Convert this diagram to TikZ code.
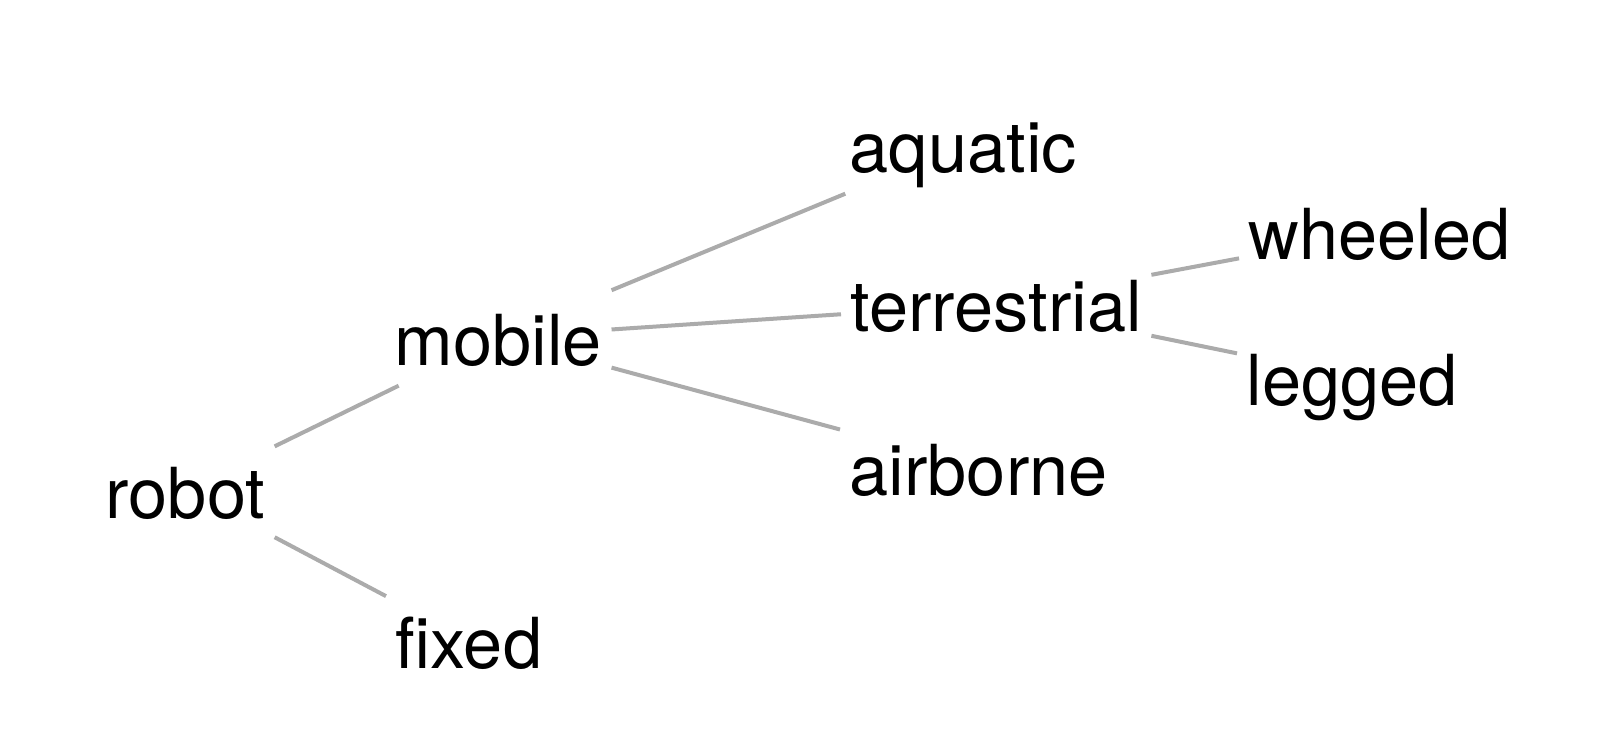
\documentclass[tikz,border=0pt]{standalone}
\usepackage{fontspec}
\setmainfont{TeX Gyre Heros}
\usepackage{tikz}
\usetikzlibrary{positioning}

\definecolor{linkgray}{HTML}{ABABAB}

\tikzset{
  leaf/.style={anchor=base west, inner xsep=0.09cm, inner ysep=0.1cm,
    text height=0.66cm, text depth=0.1cm,
    font=\fontsize{20pt}{24pt}\selectfont},
  link/.style={draw=linkgray, line width=0.04cm}
}

\begin{document}
\begin{tikzpicture}[x=0.01cm, y=-0.01cm]
		\useasboundingbox (0,0) rectangle (1616,740);
		\node[leaf] (robot) at (96,518) {robot};
		\node[leaf] (mobile) at (385,365) {mobile};
		\node[leaf] (fixed) at (386,668) {fixed};
		\node[leaf] (aquatic) at (840,173) {aquatic};
		\node[leaf] (terrestrial) at (841,332) {terrestrial};
		\node[leaf] (airborne) at (840,495) {airborne};
		\node[leaf] (wheeled) at (1239,260) {wheeled};
		\node[leaf] (legged) at (1237,405) {legged};
		
		\draw[link] (robot) edge (mobile)
		(robot) edge (fixed)
		(mobile) edge (aquatic)
		(mobile) edge (terrestrial)
		(mobile) edge (airborne)
		(terrestrial) edge (wheeled)
		(terrestrial) edge (legged);
	\end{tikzpicture}
\end{document}
